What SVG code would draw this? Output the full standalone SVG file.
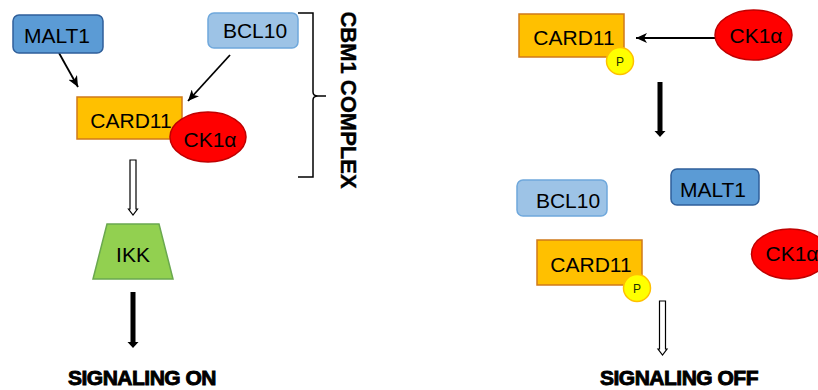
<svg xmlns="http://www.w3.org/2000/svg" width="818" height="390" viewBox="0 0 818 390">
<defs>
<style>
text{font-family:"Liberation Sans",Arial,sans-serif;fill:#000;text-anchor:middle}
.lbl{font-size:21px}
.malt{fill:#5b9bd5;stroke:#2f5f9a;stroke-width:1.5}
.bcl{fill:#9dc3e6;stroke:#6fa8dc;stroke-width:1.5}
.card{fill:#ffc000;stroke:#d07a1a;stroke-width:1.5}
.ck{fill:#ff0000;stroke:#c00000;stroke-width:1.5}
.p{fill:#ffff00;stroke:#ffc000;stroke-width:1.5}
.ptxt{font-size:12px;fill:#1a3300}
.ikk{fill:#92d050;stroke:#6aa84f;stroke-width:1.5}
.big{font-size:21px;font-weight:bold;stroke:#000;stroke-width:0.9;letter-spacing:-0.5px}
.thin{stroke:#000;stroke-width:1.8;fill:none}
.hollow{fill:#fff;stroke:#000;stroke-width:1.2}
.solid{fill:#000}
</style>
<marker id="ah" markerUnits="userSpaceOnUse" markerWidth="12" markerHeight="10" refX="11" refY="5" orient="auto">
<path d="M0,0 L11,5 L0,10 L3,5 Z" fill="#000"/>
</marker>
</defs>
<rect width="818" height="390" fill="#fff"/>

<g id="connectors">
<line class="thin" x1="59" y1="53" x2="78" y2="87" marker-end="url(#ah)"/>
<line class="thin" x1="230" y1="55" x2="188" y2="101" marker-end="url(#ah)"/>
<path class="hollow" d="M130,160 H136 V209 H137.5 L133,215 L128.5,209 H130 Z"/>
<path class="solid" d="M130.5,292 H135.5 V342 H138.5 L133,348 L127.5,342 H130.5 Z"/>
<line class="thin" x1="715" y1="38" x2="636" y2="38" marker-end="url(#ah)"/>
<path class="solid" d="M657.5,82 H662.5 V131 H665.5 L660,137 L654.5,131 H657.5 Z"/>
<path class="hollow" d="M659.5,301 H665.5 V349 H667 L662.5,355 L658,349 H659.5 Z"/>
</g>

<g id="bracket">
<path d="M298,13 H313 V92 Q313,96 318,96 H326 M318,96 Q313,96 313,100 V177 H298" fill="none" stroke="#000" stroke-width="1.5"/>
<text transform="translate(341,100) rotate(90)" style="font-size:22px;font-weight:bold;stroke:#000;stroke-width:0.4">CBM1 COMPLEX</text>
</g>

<g id="malt1-left">
<rect class="malt" x="13" y="15" width="90" height="38" rx="6"/>
<text class="lbl" x="57" y="43">MALT1</text>
</g>
<g id="bcl10-left">
<rect class="bcl" x="208" y="13" width="90" height="35" rx="6"/>
<text class="lbl" x="255" y="38">BCL10</text>
</g>
<g id="card11-left">
<rect class="card" x="77" y="97" width="105" height="42"/>
<text class="lbl" x="131" y="128">CARD11</text>
</g>
<g id="ck1a-left">
<ellipse class="ck" cx="208" cy="137" rx="38" ry="25"/>
<text class="lbl" x="210" y="147">CK1α</text>
</g>
<g id="ikk">
<polygon class="ikk" points="107,224 159,224 173,279 93,279"/>
<text class="lbl" x="133" y="262">IKK</text>
</g>
<g id="signaling-on">
<text class="big" x="142" y="385">SIGNALING ON</text>
</g>

<g id="card11-top-right">
<rect class="card" x="519" y="14" width="105" height="43"/>
<text class="lbl" x="574" y="45">CARD11</text>
<circle class="p" cx="620" cy="61" r="13.5"/>
<text class="ptxt" x="620" y="66">P</text>
</g>
<g id="ck1a-top-right">
<ellipse class="ck" cx="753.5" cy="35" rx="38.5" ry="25"/>
<text class="lbl" x="756" y="43">CK1α</text>
</g>
<g id="bcl10-right">
<rect class="bcl" x="517" y="180" width="90" height="36" rx="6"/>
<text class="lbl" x="568" y="208">BCL10</text>
</g>
<g id="malt1-right">
<rect class="malt" x="671" y="169" width="88" height="36" rx="6"/>
<text class="lbl" x="713" y="197">MALT1</text>
</g>
<g id="card11-bottom-right">
<rect class="card" x="537" y="240" width="105" height="45"/>
<text class="lbl" x="591" y="272">CARD11</text>
<circle class="p" cx="637" cy="288" r="13.5"/>
<text class="ptxt" x="637" y="293">P</text>
</g>
<g id="ck1a-bottom-right">
<ellipse class="ck" cx="790" cy="254" rx="38.5" ry="25"/>
<text class="lbl" x="792" y="261">CK1α</text>
</g>
<g id="signaling-off">
<text class="big" x="679" y="385">SIGNALING OFF</text>
</g>
</svg>
